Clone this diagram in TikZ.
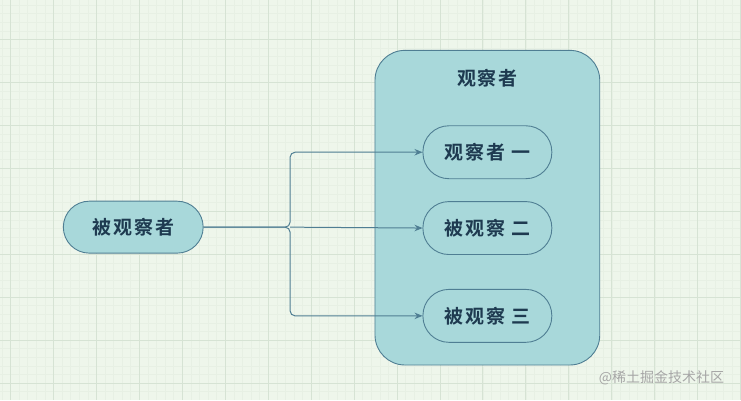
\documentclass[tikz,border=0pt]{standalone}
\usepackage{fontspec}
\newfontfamily\cjk{Noto Sans CJK SC}[BoldFont={Noto Sans CJK SC Bold}]
\newfontfamily\cjkwide{Noto Sans CJK SC}[BoldFont={Noto Sans CJK SC Bold},LetterSpace=10]
\usetikzlibrary{arrows.meta,positioning,calc}
\definecolor{bgpaper}{HTML}{EEF6EB}
\definecolor{gridmaj}{HTML}{D6E3D4}
\definecolor{gridmin}{HTML}{E7F0E4}
\definecolor{tealfill}{HTML}{A8D8DA}
\definecolor{tealline}{HTML}{4F7E93}
\definecolor{inktext}{HTML}{1E3A50}
\tikzset{
  obsbox/.style={draw=tealline,fill=tealfill,line width=0.9pt,rounded corners=30pt,minimum width=225pt,minimum height=315pt},
  pill/.style={draw=tealline,fill=tealfill,line width=0.9pt,rounded corners=26pt,minimum width=129pt,minimum height=53pt,
    text=inktext,font=\cjkwide\bfseries\fontsize{19}{22}\selectfont},
  lbl/.style={text=inktext,font=\cjkwide\bfseries\fontsize{19}{22}\selectfont},
  arr/.style={-{Stealth[length=8pt,width=6.5pt]},draw=tealline,line width=1pt,rounded corners=5pt}
}

\begin{document}
\begin{tikzpicture}[x=1pt,y=-1pt]
  % paper and grid
  \fill[bgpaper] (0,0) rectangle (741,400);
  \foreach \gx in {1.4,10,...,741} \draw[gridmin,line width=0.4pt] (\gx,0) -- (\gx,400);
  \foreach \gy in {4.6,13.2,...,400} \draw[gridmin,line width=0.4pt] (0,\gy) -- (741,\gy);
  \foreach \gx in {10,53,...,741} \draw[gridmaj,line width=0.8pt] (\gx,0) -- (\gx,400);
  \foreach \gy in {39,82,...,400} \draw[gridmaj,line width=0.8pt] (0,\gy) -- (741,\gy);
  \useasboundingbox (0,0) rectangle (741,400);

  % observers
  \node[obsbox] (obs) at (487.5,207.5) {};
  \node[lbl, below=16pt of obs.north] (obstitle) {观察者};
  \node[pill] (sub1) at (487.5,152) {观察者 一};
  \node[pill, below=22pt of sub1] (sub2) {被观察 二};
  \node[pill, below=34pt of sub2] (sub3) {被观察 三};

  % subject
  \node[pill, minimum width=140pt, minimum height=52pt] (subj) at (133,227) {被观察者};
  \coordinate (split) at (290,227);

  \draw[arr] (subj.east) -- (split) |- (sub1.west);
  \draw[arr] (split) -- (sub2.west);
  \draw[arr] (subj.east) -- (split) |- (sub3.west);

  \node[text=gray!70,font=\cjk\fontsize{14}{16}\selectfont, anchor=east] (mark) at (728,378) {@稀土掘金技术社区};
\end{tikzpicture}
\end{document}
